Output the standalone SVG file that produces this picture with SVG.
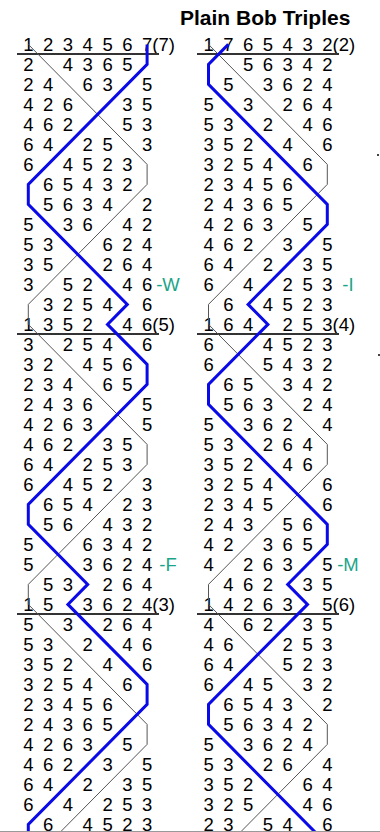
<svg xmlns="http://www.w3.org/2000/svg" width="380" height="832" viewBox="0 0 380 832">
<style>
.d{font-family:"Liberation Sans",Arial,sans-serif;font-size:18.5px;fill:#000}
.t{font-family:"Liberation Sans",Arial,sans-serif;font-size:21px;font-weight:bold;fill:#000}
.call{font-family:"Liberation Sans",Arial,sans-serif;font-size:18.5px;fill:#1aa58a;text-anchor:middle}
.blue{fill:none;stroke:#0a0ae8;stroke-width:3}
.treble{fill:none;stroke:#555;stroke-width:1}
.le{stroke:#333;stroke-width:2}
</style>
<rect width="380" height="832" fill="#fff"/>
<g id="title"><text class="t" x="180" y="25">Plain Bob Triples</text></g>

<g id="left-column" class="d">
<g id="left-lead-1">
<text x="23.2 43.0 62.8 82.6 102.4 122.2 142.0" y="51">1234567(7)</text>
<text x="23.2 62.8 82.6 102.4 122.2" y="71">24365</text>
<text x="23.2 43.0 82.6 102.4 142.0" y="91">24635</text>
<text x="23.2 43.0 62.8 122.2 142.0" y="111">42635</text>
<text x="23.2 43.0 62.8 122.2 142.0" y="131">46253</text>
<text x="23.2 43.0 82.6 102.4 142.0" y="151">64253</text>
<text x="23.2 62.8 82.6 102.4 122.2" y="171">64523</text>
<text x="43.0 62.8 82.6 102.4 122.2" y="191">65432</text>
<text x="43.0 62.8 82.6 102.4 142.0" y="211">56342</text>
<text x="23.2 62.8 82.6 122.2 142.0" y="231">53642</text>
<text x="23.2 43.0 102.4 122.2 142.0" y="251">53624</text>
<text x="23.2 43.0 102.4 122.2 142.0" y="271">35264</text>
<text x="23.2 62.8 82.6 122.2 142.0" y="291">35246</text>
<text x="43.0 62.8 82.6 102.4 142.0" y="311">32546</text>
<text x="23.2 43.0 62.8 82.6 122.2 142.0" y="331">135246(5)</text>
</g>
<g id="left-lead-2">
<text x="23.2 62.8 82.6 102.4 142.0" y="351">32546</text>
<text x="23.2 43.0 82.6 102.4 122.2" y="371">32456</text>
<text x="23.2 43.0 62.8 102.4 122.2" y="391">23465</text>
<text x="23.2 43.0 62.8 82.6 142.0" y="411">24365</text>
<text x="23.2 43.0 62.8 82.6 142.0" y="431">42635</text>
<text x="23.2 43.0 62.8 102.4 122.2" y="451">46235</text>
<text x="23.2 43.0 82.6 102.4 122.2" y="471">64253</text>
<text x="23.2 62.8 82.6 102.4 142.0" y="491">64523</text>
<text x="43.0 62.8 82.6 122.2 142.0" y="511">65423</text>
<text x="43.0 62.8 102.4 122.2 142.0" y="531">56432</text>
<text x="23.2 82.6 102.4 122.2 142.0" y="551">56342</text>
<text x="23.2 82.6 102.4 122.2 142.0" y="571">53624</text>
<text x="43.0 62.8 102.4 122.2 142.0" y="591">53264</text>
<text x="23.2 43.0 82.6 102.4 122.2 142.0" y="611">153624(3)</text>
</g>
<g id="left-lead-3">
<text x="23.2 62.8 102.4 122.2 142.0" y="631">53264</text>
<text x="23.2 43.0 82.6 122.2 142.0" y="651">53246</text>
<text x="23.2 43.0 62.8 102.4 142.0" y="671">35246</text>
<text x="23.2 43.0 62.8 82.6 122.2" y="691">32546</text>
<text x="23.2 43.0 62.8 82.6 102.4" y="711">23456</text>
<text x="23.2 43.0 62.8 82.6 102.4" y="731">24365</text>
<text x="23.2 43.0 62.8 82.6 122.2" y="751">42635</text>
<text x="23.2 43.0 62.8 102.4 142.0" y="771">46235</text>
<text x="23.2 43.0 82.6 122.2 142.0" y="791">64235</text>
<text x="23.2 62.8 102.4 122.2 142.0" y="811">64253</text>
<text x="43.0 82.6 102.4 122.2 142.0" y="831">64523</text>
</g>
</g>

<g id="right-column" class="d">
<g id="right-lead-4">
<text x="203.4 223.2 243.0 262.8 282.6 302.4 322.2" y="51">1765432(2)</text>
<text x="243.0 262.8 282.6 302.4 322.2" y="71">56342</text>
<text x="223.2 262.8 282.6 302.4 322.2" y="91">53624</text>
<text x="203.4 243.0 282.6 302.4 322.2" y="111">53264</text>
<text x="203.4 223.2 262.8 302.4 322.2" y="131">53246</text>
<text x="203.4 223.2 243.0 282.6 322.2" y="151">35246</text>
<text x="203.4 223.2 243.0 262.8 302.4" y="171">32546</text>
<text x="203.4 223.2 243.0 262.8 282.6" y="191">23456</text>
<text x="203.4 223.2 243.0 262.8 282.6" y="211">24365</text>
<text x="203.4 223.2 243.0 262.8 302.4" y="231">42635</text>
<text x="203.4 223.2 243.0 282.6 322.2" y="251">46235</text>
<text x="203.4 223.2 262.8 302.4 322.2" y="271">64235</text>
<text x="203.4 243.0 282.6 302.4 322.2" y="291">64253</text>
<text x="223.2 262.8 282.6 302.4 322.2" y="311">64523</text>
<text x="203.4 223.2 243.0 282.6 302.4 322.2" y="331">164253(4)</text>
</g>
<g id="right-lead-5">
<text x="203.4 262.8 282.6 302.4 322.2" y="351">64523</text>
<text x="203.4 262.8 282.6 302.4 322.2" y="371">65432</text>
<text x="223.2 243.0 282.6 302.4 322.2" y="391">65342</text>
<text x="223.2 243.0 262.8 302.4 322.2" y="411">56324</text>
<text x="203.4 243.0 262.8 282.6 322.2" y="431">53624</text>
<text x="203.4 223.2 262.8 282.6 302.4" y="451">53264</text>
<text x="203.4 223.2 243.0 282.6 302.4" y="471">35246</text>
<text x="203.4 223.2 243.0 262.8 322.2" y="491">32546</text>
<text x="203.4 223.2 243.0 262.8 322.2" y="511">23456</text>
<text x="203.4 223.2 243.0 282.6 302.4" y="531">24356</text>
<text x="203.4 223.2 262.8 282.6 302.4" y="551">42365</text>
<text x="203.4 243.0 262.8 282.6 322.2" y="571">42635</text>
<text x="223.2 243.0 262.8 302.4 322.2" y="591">46235</text>
<text x="203.4 223.2 243.0 262.8 282.6 322.2" y="611">142635(6)</text>
</g>
<g id="right-lead-6">
<text x="203.4 243.0 262.8 302.4 322.2" y="631">46235</text>
<text x="203.4 223.2 282.6 302.4 322.2" y="651">46253</text>
<text x="203.4 223.2 282.6 302.4 322.2" y="671">64523</text>
<text x="203.4 243.0 262.8 302.4 322.2" y="691">64532</text>
<text x="223.2 243.0 262.8 282.6 322.2" y="711">65432</text>
<text x="223.2 243.0 262.8 282.6 302.4" y="731">56342</text>
<text x="203.4 243.0 262.8 282.6 302.4" y="751">53624</text>
<text x="203.4 223.2 262.8 282.6 322.2" y="771">53264</text>
<text x="203.4 223.2 243.0 302.4 322.2" y="791">35264</text>
<text x="203.4 223.2 243.0 302.4 322.2" y="811">32546</text>
<text x="203.4 223.2 262.8 282.6 322.2" y="831">23546</text>
</g>
</g>

<g id="calls">
<text class="call" x="168" y="291">-W</text>
<text class="call" x="168" y="571">-F</text>
<text class="call" x="348" y="291">-I</text>
<text class="call" x="348" y="571">-M</text>
</g>

<g id="connectors">
<g id="lead-end-rules">
<line class="le" x1="17" y1="54" x2="159" y2="54"/>
<line class="le" x1="17" y1="334" x2="159" y2="334"/>
<line class="le" x1="17" y1="614" x2="159" y2="614"/>
<line class="le" x1="197" y1="54" x2="339" y2="54"/>
<line class="le" x1="197" y1="334" x2="339" y2="334"/>
<line class="le" x1="197" y1="614" x2="339" y2="614"/>
</g>
<path id="left-treble" class="treble" d="M28.3,44.4 L147.1,164.4 L147.1,184.4 L28.3,304.4 L28.3,324.4 L147.1,444.4 L147.1,464.4 L28.3,584.4 L28.3,604.4 L147.1,724.4 L147.1,744.4 L48.1,844.4"/>
<path id="right-treble" class="treble" d="M208.5,44.4 L327.3,164.4 L327.3,184.4 L208.5,304.4 L208.5,324.4 L327.3,444.4 L327.3,464.4 L208.5,584.4 L208.5,604.4 L327.3,724.4 L327.3,744.4 L228.3,844.4"/>
<path id="left-blue" class="blue" d="M147.1,44.4 L147.1,64.4 L28.3,184.4 L28.3,204.4 L127.3,304.4 L107.5,324.4 L147.1,364.4 L147.1,384.4 L28.3,504.4 L28.3,524.4 L87.7,584.4 L67.9,604.4 L147.1,684.4 L147.1,704.4 L28.3,824.4 L28.3,844.4"/>
<path id="right-blue" class="blue" d="M228.3,44.4 L208.5,64.4 L208.5,84.4 L327.3,204.4 L327.3,224.4 L248.1,304.4 L267.9,324.4 L208.5,384.4 L208.5,404.4 L327.3,524.4 L327.3,544.4 L287.7,584.4 L307.5,604.4 L208.5,704.4 L208.5,724.4 L327.3,844.4"/>
</g>

<g id="edge-marks">
<rect x="377" y="154" width="2" height="2" fill="#444"/>
<rect x="378" y="354" width="2" height="2" fill="#444"/>
<line x1="0" y1="831.5" x2="380" y2="831.5" stroke="#999" stroke-width="1"/>
</g>
</svg>
